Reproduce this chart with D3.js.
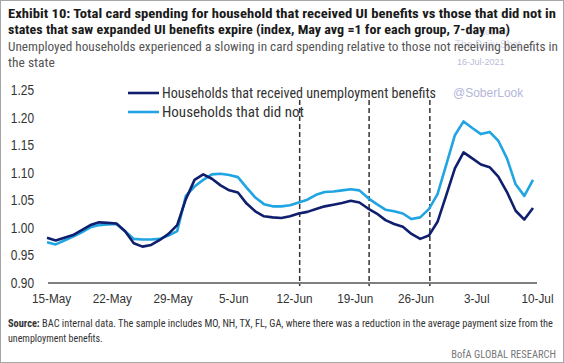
<!DOCTYPE html>
<html>
<head>
<meta charset="utf-8">
<script src="https://cdn.jsdelivr.net/npm/d3@7"></script>
<style>
  body { margin: 0; background: #fff; }
  svg { display: block; font-family: "Liberation Sans Narrow", "Arial Narrow", "Roboto Condensed", "Liberation Sans", sans-serif; }
</style>
</head>
<body>
<svg id="chart" width="564" height="363"></svg>
<script>
// daily values, 15-May to 10-Jul 2021 (7-day ma, index May avg = 1)
let firstDay = new Date(2021, 4, 15)
let received = [0.982, 0.977, 0.982, 0.987, 0.996, 1.005, 1.010, 1.009, 1.008, 0.994,
  0.972, 0.966, 0.969, 0.978, 0.989, 1.005, 1.052, 1.087, 1.097, 1.089,
  1.077, 1.068, 1.064, 1.044, 1.030, 1.021, 1.019, 1.018, 1.021, 1.026,
  1.029, 1.034, 1.039, 1.042, 1.045, 1.049, 1.046, 1.035, 1.026, 1.014,
  1.007, 1.002, 0.989, 0.980, 0.986, 1.011, 1.059, 1.108, 1.137, 1.126,
  1.115, 1.110, 1.093, 1.065, 1.031, 1.015, 1.036]
let didNot = [0.974, 0.970, 0.977, 0.984, 0.992, 1.001, 1.005, 1.006, 1.007, 0.994,
  0.980, 0.979, 0.979, 0.980, 0.986, 0.994, 1.058, 1.075, 1.087, 1.097,
  1.098, 1.096, 1.092, 1.073, 1.055, 1.043, 1.039, 1.039, 1.041, 1.046,
  1.051, 1.060, 1.065, 1.066, 1.068, 1.070, 1.068, 1.054, 1.043, 1.033,
  1.030, 1.026, 1.016, 1.019, 1.034, 1.061, 1.114, 1.168, 1.193, 1.181,
  1.170, 1.174, 1.158, 1.126, 1.079, 1.058, 1.087]
let xTickLabels = ["15-May", "22-May", "29-May", "5-Jun", "12-Jun", "19-Jun", "26-Jun", "3-Jul", "10-Jul"]
let yTicks = [0.90, 0.95, 1.00, 1.05, 1.10, 1.15, 1.20, 1.25]
let expiryDays = [new Date(2021, 5, 13), new Date(2021, 5, 21), new Date(2021, 5, 28)]
let seriesNames = ["Households that received unemployment benefits", "Households that did not"]

let svg = d3.select("#chart")
let width = 564, height = 363
let navy = "#0f1f6e", sky = "#21a4e2"

// squeeze a text a bit so it looks like the condensed font of the original
function narrow(sel, k) {
  sel.each(function () {
    let len = this.getComputedTextLength()
    d3.select(this).attr("textLength", len * k).attr("lengthAdjust", "spacingAndGlyphs")
  })
}

let days = d3.timeDay.range(firstDay, d3.timeDay.offset(firstDay, received.length))

let x = d3.scaleTime()
    .domain([days[0], days[days.length - 1]])
    .range([47, 533])

let y = d3.scaleLinear()
    .domain([0.90, 1.25])
    .range([283, 90])

// frame
svg.append("rect")
    .attr("x", 0.5).attr("y", 0.5)
    .attr("width", width - 1).attr("height", height - 1)
    .style("fill", "none")
    .style("stroke", "#a6a6a6")

// faint watermark (sits behind the titles, like the original)
svg.append("text")
    .attr("x", 467).attr("y", 35)
    .style("font-family", "Liberation Sans, sans-serif")
    .style("font-size", "9px").style("fill", "#d3d5e6")
    .text("Posted on")
svg.append("text")
    .attr("x", 455).attr("y", 48)
    .style("font-family", "Liberation Sans, sans-serif")
    .style("font-size", "10px").style("fill", "#d3d5e6")
    .text("The Daily Shot")
svg.append("text")
    .attr("x", 457).attr("y", 65)
    .style("font-family", "Liberation Sans, sans-serif")
    .style("font-size", "9px").style("fill", "#b9bcd6")
    .text("16-Jul-2021")

// titles
svg.append("text")
    .attr("x", 8).attr("y", 18)
    .attr("textLength", 548).attr("lengthAdjust", "spacingAndGlyphs")
    .style("font-weight", "bold").style("font-size", "13px").style("fill", "#1a1a1a")
    .text("Exhibit 10: Total card spending for household that received UI benefits vs those that did not in")

svg.append("text")
    .attr("x", 8).attr("y", 34)
    .attr("textLength", 502).attr("lengthAdjust", "spacingAndGlyphs")
    .style("font-weight", "bold").style("font-size", "13px").style("fill", "#1a1a1a")
    .text("states that saw expanded UI benefits expire (index, May avg =1 for each group, 7-day ma)")

svg.append("text")
    .attr("x", 8).attr("y", 51)
    .attr("textLength", 550).attr("lengthAdjust", "spacingAndGlyphs")
    .style("font-size", "13.5px").style("fill", "#555")
    .text("Unemployed households experienced a slowing in card spending relative to those not receiving benefits in")

svg.append("text")
    .attr("x", 8).attr("y", 67)
    .style("font-size", "13.5px").style("fill", "#555")
    .text("the state")

svg.append("text")
    .attr("x", 453).attr("y", 97)
    .style("font-family", "Liberation Sans, sans-serif")
    .style("font-size", "12px").style("fill", "#b4b6da")
    .text("@SoberLook")

// y axis labels (no axis line)
let yAxis = svg.append("g")
    .attr("transform", "translate(34,0)")
    .call(d3.axisLeft(y).tickValues(yTicks).tickSize(0).tickPadding(0).tickFormat(d3.format(".2f")))
yAxis.select(".domain").remove()
yAxis.selectAll("text")
    .style("font-family", "Liberation Sans Narrow, Arial Narrow, Liberation Sans, sans-serif")
    .style("font-size", "14px").style("fill", "#333")
    .call(narrow, 0.85)

// x axis
let xAxis = svg.append("g")
    .attr("transform", "translate(0,283)")
    .call(d3.axisBottom(x)
        .tickValues(xTickLabels.map((d, i) => d3.timeDay.offset(firstDay, i * 7)))
        .tickSize(0).tickPadding(10)
        .tickFormat((d, i) => xTickLabels[i]))
xAxis.select(".domain")
    .attr("d", "M48,0H537")
    .style("stroke", "#555").style("stroke-width", 1.5)
xAxis.selectAll("text")
    .attr("dx", 4)
    .style("font-family", "Liberation Sans Narrow, Arial Narrow, Liberation Sans, sans-serif")
    .style("font-size", "13.5px").style("fill", "#333")
    .call(narrow, 0.87)

// dashed expiry markers
svg.append("g")
    .selectAll("line")
    .data(expiryDays)
    .enter()
    .append("line")
        .attr("x1", d => x(d) + 1).attr("x2", d => x(d) + 1)
        .attr("y1", 100).attr("y2", 286)
        .style("stroke", "#333")
        .style("stroke-width", 1.5)
        .style("stroke-dasharray", "5,3")

let line = d3.line()
    .x((d, i) => x(days[i]))
    .y(d => y(d))

svg.append("path")
    .datum(didNot)
    .attr("d", line)
    .style("fill", "none").style("stroke", sky).style("stroke-width", 2.6)
    .style("stroke-linejoin", "round")

svg.append("path")
    .datum(received)
    .attr("d", line)
    .style("fill", "none").style("stroke", navy).style("stroke-width", 2.6)
    .style("stroke-linejoin", "round")

// legend
let legend = svg.append("g")
    .selectAll("g")
    .data(seriesNames)
    .enter()
    .append("g")
        .attr("transform", (d, i) => `translate(128,${93 + i * 19})`)
legend.append("line")
    .attr("x1", 0).attr("x2", 31)
    .style("stroke", (d, i) => i === 0 ? navy : sky)
    .style("stroke-width", 2.6)
legend.append("text")
    .attr("x", 34).attr("y", 5)
    .attr("textLength", (d, i) => i === 0 ? 274 : 142)
    .attr("lengthAdjust", "spacingAndGlyphs")
    .style("font-size", "14.5px").style("fill", "#333")
    .text(d => d)

// source notes
let src = svg.append("text")
    .attr("x", 8).attr("y", 327)
    .attr("textLength", 545).attr("lengthAdjust", "spacingAndGlyphs")
    .style("font-size", "10px").style("fill", "#333")
src.append("tspan").style("font-weight", "bold").text("Source:")
src.append("tspan").text("  BAC internal data. The sample includes  MO, NH, TX,  FL, GA, where there was a reduction in the average payment size from the")

svg.append("text")
    .attr("x", 8).attr("y", 342)
    .style("font-size", "10px").style("fill", "#333")
    .text("unemployment  benefits.")

svg.append("text")
    .attr("x", 556).attr("y", 358)
    .attr("text-anchor", "end")
    .style("font-size", "10.5px").style("fill", "#777")
    .text("BofA GLOBAL RESEARCH")
</script>
</body>
</html>
